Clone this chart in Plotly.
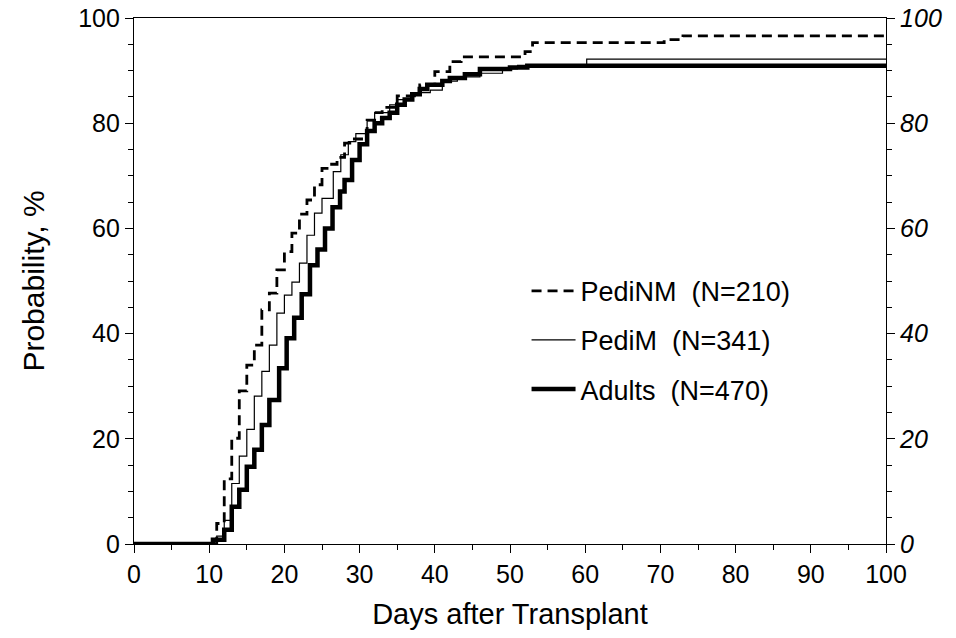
import plotly.graph_objects as go

# PediNM (dashed)
pedinm_days = [0, 11, 12, 13, 14, 15, 16, 17, 18, 19, 20, 21, 22, 23, 24, 25, 26, 27, 28, 29, 31, 32, 33, 35, 38, 40, 42, 43.5, 52, 53, 70.5, 73, 100]
pedinm_prob = [0, 3.9, 12.4, 20.1, 29.1, 34.0, 37.8, 44.5, 47.7, 52.1, 55.6, 59.1, 62.7, 65.4, 68.3, 71.4, 72.2, 73.5, 76.2, 77.0, 80.6, 82.0, 83.0, 85.2, 87.3, 89.8, 91.7, 92.6, 93.6, 95.3, 95.9, 96.6, 96.6]

# PediM (thin)
pedim_days = [0, 11, 12, 13, 14, 15, 16, 17, 18, 19, 20, 21, 22, 23, 24, 25, 26.5, 27.5, 28.5, 29.5, 31, 32, 34, 35, 37, 39.4, 41, 43, 46, 49, 51, 60.2, 100]
pedim_prob = [0, 1.5, 4.5, 11.5, 16.7, 21.8, 28.1, 32.8, 37.8, 43.9, 47.3, 49.8, 53.4, 58.7, 62.9, 65.7, 70.8, 74.0, 76.5, 78.0, 80.5, 82.0, 83.5, 84.5, 85.8, 86.3, 88.0, 88.8, 89.5, 90.3, 91.0, 92.2, 92.2]

# Adults (thick)
adult_days = [0, 10.5, 12, 13, 14, 15, 16, 17, 18, 19.3, 20.3, 21.3, 22.3, 23.4, 24.4, 25.4, 26.4, 27.4, 28, 29, 30, 31, 32, 33, 34, 35, 36, 37, 38, 39, 41, 42, 44, 46, 50, 52.3, 100]
adult_prob = [0, 0.8, 2.7, 7.1, 10.3, 14.7, 17.9, 22.6, 27.4, 33.4, 39.1, 43.0, 47.5, 53.0, 56.0, 60.0, 64.0, 67.0, 69.2, 73.0, 76.0, 78.5, 80.0, 81.0, 82.0, 83.5, 84.5, 85.5, 86.5, 87.3, 88.0, 88.6, 89.3, 90.3, 90.6, 90.9, 90.9]

names = ["PediNM\u00a0\u00a0(N=210)", "PediM\u00a0\u00a0(N=341)", "Adults\u00a0\u00a0(N=470)"]

x_ticks = list(range(0, 101, 10))
y_ticks = list(range(0, 101, 20))

FONT = "Liberation Sans, Arial, sans-serif"

fig = go.Figure()
fig.add_trace(go.Scatter(x=pedinm_days, y=pedinm_prob, mode="lines", line_shape="hv",
                         line=dict(color="black", width=2.8, dash="10px,6px"),
                         name=names[0], legendgroup="a"))
fig.add_trace(go.Scatter(x=pedim_days, y=pedim_prob, mode="lines", line_shape="hv",
                         line=dict(color="black", width=1.2),
                         name=names[1], legendgroup="b"))
fig.add_trace(go.Scatter(x=adult_days, y=adult_prob, mode="lines", line_shape="hv",
                         line=dict(color="black", width=4.5),
                         name=names[2], legendgroup="c"))
# invisible trace so the right-hand axis is drawn
fig.add_trace(go.Scatter(x=[0, 100], y=[0, 100], yaxis="y2", mode="lines",
                         line=dict(width=0, color="rgba(0,0,0,0)"),
                         showlegend=False, hoverinfo="skip"))

axis_common = dict(
    showgrid=False, zeroline=False, showline=True, linecolor="black", linewidth=1.2,
    ticks="outside", ticklen=8, tickwidth=1, tickcolor="black", automargin=False,
)

fig.update_layout(
    width=956, height=638,
    margin=dict(l=134, r=70, t=18, b=94),
    paper_bgcolor="white", plot_bgcolor="white",
    font=dict(family=FONT, color="black", size=25),
    showlegend=True,
    legend=dict(x=0.522, y=0.527, xanchor="left", yanchor="top",
                font=dict(family=FONT, size=27, color="black"),
                bgcolor="rgba(0,0,0,0)", tracegroupgap=11, itemwidth=44),
    xaxis=dict(
        range=[0, 100], tickmode="array", tickvals=x_ticks, ticktext=[str(v) for v in x_ticks],
        mirror=True,
        minor=dict(dtick=5, ticks="outside", ticklen=5, tickcolor="black"),
        title=dict(text="Days after Transplant", font=dict(size=29), standoff=16),
        tickfont=dict(size=25),
        **axis_common,
    ),
    yaxis=dict(
        range=[0, 100], tickmode="array", tickvals=y_ticks, ticktext=[str(v) for v in y_ticks],
        minor=dict(dtick=5, ticks="outside", ticklen=5, tickcolor="black"),
        title=dict(text="Probability, %", font=dict(size=30), standoff=24),
        tickfont=dict(size=25),
        **axis_common,
    ),
    yaxis2=dict(
        range=[0, 100], overlaying="y", side="right", tickmode="array", tickvals=y_ticks,
        ticktext=[str(v) for v in y_ticks],
        minor=dict(dtick=5, ticks="outside", ticklen=5, tickcolor="black"),
        tickfont=dict(size=25, style="italic"),
        **axis_common,
    ),
)

fig.write_html("out.html")
